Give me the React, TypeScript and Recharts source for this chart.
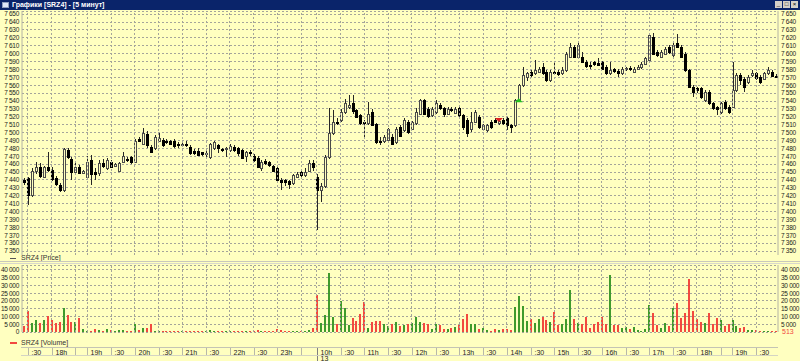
import React from "react";
import {
  Bar,
  CartesianGrid,
  ComposedChart,
  ReferenceLine,
  Scatter,
  XAxis,
  YAxis,
} from "recharts";

// trading sessions shown on the chart (5 minute candles)
const sessions = [
  { day: 12, start: "17:25", end: "18:40" },
  { day: 12, start: "19:00", end: "23:45" },
  { day: 13, start: "10:00", end: "18:40" },
  { day: 13, start: "19:00", end: "19:55" },
];

const opens = [
  7440, 7442, 7421, 7452, 7457, 7444, 7456, 7453, 7443, 7434,
  7427, 7478, 7467, 7450, 7457, 7449, 7444, 7465, 7450, 7449,
  7462, 7455, 7463, 7458, 7452, 7463, 7467, 7469, 7463, 7492,
  7486, 7498, 7482, 7480, 7490, 7491, 7490, 7489, 7490, 7486,
  7484, 7486, 7482, 7477, 7477, 7475, 7473, 7469, 7480, 7484,
  7479, 7479, 7478, 7482, 7481, 7478, 7470, 7476, 7471, 7468,
  7455, 7464, 7463, 7458, 7455, 7440, 7440, 7439, 7436, 7444,
  7450, 7446, 7452, 7461, 7444, 7427, 7433, 7469, 7499, 7514,
  7516, 7526, 7533, 7537, 7528, 7522, 7514, 7512, 7526, 7511,
  7490, 7489, 7491, 7495, 7488, 7507, 7503, 7514, 7505, 7512,
  7524, 7541, 7530, 7522, 7526, 7535, 7531, 7524, 7530, 7525,
  7531, 7522, 7516, 7505, 7514, 7520, 7505, 7503, 7514, 7516,
  7512, 7516, 7518, 7509, 7509, 7541, 7560, 7571, 7577, 7575,
  7577, 7583, 7577, 7566, 7577, 7577, 7575, 7579, 7596, 7609,
  7596, 7596, 7590, 7586, 7590, 7588, 7589, 7583, 7575, 7580,
  7578, 7575, 7580, 7582, 7577, 7581, 7583, 7587, 7592, 7621,
  7602, 7596, 7600, 7609, 7598, 7613, 7609, 7600, 7579, 7558,
  7556, 7556, 7541, 7552, 7537, 7532, 7526, 7539, 7533, 7533,
  7554, 7573, 7568, 7564, 7573, 7575, 7571, 7568, 7575, 7577,
  7572,
];

const highs = [
  7443, 7444, 7455, 7463, 7462, 7458, 7476, 7456, 7445, 7436,
  7481, 7480, 7469, 7463, 7459, 7453, 7471, 7472, 7455, 7465,
  7467, 7468, 7465, 7462, 7463, 7476, 7469, 7471, 7492, 7495,
  7506, 7502, 7484, 7497, 7499, 7493, 7492, 7491, 7492, 7488,
  7488, 7489, 7484, 7479, 7480, 7476, 7477, 7487, 7490, 7486,
  7481, 7482, 7486, 7484, 7482, 7479, 7477, 7478, 7473, 7470,
  7465, 7466, 7464, 7459, 7456, 7442, 7441, 7440, 7448, 7450,
  7452, 7455, 7465, 7465, 7448, 7436, 7472, 7531, 7529, 7518,
  7530, 7543, 7547, 7547, 7530, 7524, 7516, 7539, 7530, 7512,
  7494, 7497, 7506, 7498, 7507, 7510, 7518, 7516, 7515, 7531,
  7543, 7543, 7532, 7532, 7541, 7537, 7532, 7532, 7532, 7532,
  7533, 7524, 7518, 7526, 7528, 7522, 7511, 7511, 7516, 7518,
  7518, 7518, 7520, 7511, 7543, 7562, 7583, 7577, 7579, 7592,
  7583, 7588, 7579, 7579, 7588, 7579, 7583, 7602, 7613, 7611,
  7613, 7602, 7592, 7590, 7591, 7594, 7591, 7585, 7590, 7582,
  7580, 7583, 7583, 7584, 7583, 7585, 7589, 7596, 7625, 7626,
  7604, 7604, 7608, 7611, 7613, 7625, 7611, 7602, 7581, 7560,
  7558, 7558, 7554, 7554, 7539, 7534, 7539, 7541, 7535, 7589,
  7575, 7575, 7570, 7573, 7579, 7577, 7573, 7577, 7583, 7579,
  7574,
];

const lows = [
  7434, 7408, 7419, 7448, 7443, 7442, 7450, 7439, 7433, 7425,
  7425, 7467, 7440, 7446, 7447, 7447, 7442, 7434, 7440, 7445,
  7455, 7453, 7455, 7456, 7450, 7461, 7463, 7460, 7461, 7488,
  7484, 7480, 7474, 7478, 7488, 7482, 7486, 7484, 7481, 7480,
  7482, 7482, 7472, 7472, 7470, 7470, 7469, 7467, 7478, 7474,
  7476, 7469, 7476, 7476, 7471, 7466, 7463, 7471, 7463, 7455,
  7452, 7459, 7456, 7450, 7438, 7427, 7433, 7429, 7434, 7442,
  7444, 7444, 7450, 7451, 7377, 7412, 7430, 7467, 7497, 7510,
  7514, 7524, 7530, 7524, 7518, 7510, 7493, 7510, 7508, 7486,
  7484, 7487, 7489, 7484, 7486, 7494, 7501, 7498, 7503, 7510,
  7522, 7522, 7519, 7520, 7524, 7529, 7520, 7522, 7526, 7523,
  7520, 7503, 7495, 7501, 7512, 7505, 7503, 7501, 7505, 7512,
  7510, 7510, 7503, 7500, 7507, 7539, 7558, 7565, 7571, 7573,
  7575, 7573, 7564, 7564, 7573, 7572, 7573, 7577, 7594, 7594,
  7594, 7588, 7582, 7581, 7584, 7584, 7579, 7573, 7573, 7576,
  7570, 7573, 7578, 7578, 7575, 7579, 7581, 7585, 7590, 7598,
  7596, 7594, 7598, 7600, 7596, 7607, 7594, 7577, 7556, 7545,
  7550, 7543, 7539, 7535, 7529, 7522, 7524, 7529, 7524, 7531,
  7552, 7560, 7552, 7562, 7571, 7567, 7562, 7566, 7573, 7570,
  7570,
];

const closes = [
  7437, 7421, 7452, 7456, 7445, 7456, 7453, 7441, 7435, 7427,
  7479, 7469, 7450, 7457, 7449, 7451, 7463, 7448, 7447, 7462,
  7458, 7465, 7457, 7460, 7461, 7471, 7465, 7463, 7490, 7490,
  7499, 7484, 7476, 7494, 7493, 7484, 7488, 7486, 7483, 7484,
  7486, 7485, 7474, 7474, 7472, 7473, 7474, 7486, 7488, 7480,
  7478, 7480, 7483, 7478, 7474, 7468, 7476, 7474, 7465, 7457,
  7463, 7461, 7459, 7452, 7440, 7438, 7437, 7435, 7446, 7448,
  7446, 7450, 7461, 7456, 7427, 7433, 7469, 7499, 7514, 7512,
  7526, 7537, 7535, 7527, 7520, 7512, 7513, 7524, 7510, 7488,
  7489, 7495, 7504, 7486, 7505, 7496, 7516, 7501, 7513, 7526,
  7541, 7524, 7521, 7530, 7537, 7531, 7524, 7530, 7528, 7530,
  7522, 7507, 7499, 7514, 7526, 7507, 7509, 7509, 7507, 7514,
  7515, 7512, 7509, 7507, 7541, 7560, 7573, 7575, 7573, 7579,
  7581, 7575, 7566, 7577, 7575, 7574, 7579, 7600, 7609, 7596,
  7611, 7590, 7584, 7585, 7587, 7586, 7581, 7575, 7579, 7578,
  7576, 7581, 7582, 7580, 7581, 7583, 7587, 7594, 7623, 7600,
  7598, 7602, 7606, 7602, 7611, 7609, 7596, 7579, 7558, 7552,
  7554, 7545, 7552, 7537, 7531, 7530, 7537, 7531, 7526, 7554,
  7573, 7566, 7558, 7571, 7575, 7569, 7564, 7575, 7579, 7572,
  7571,
];

const volumes = [
  3900, 13500, 6000, 7700, 6000, 7500, 10300, 7500, 6000, 6700,
  15700, 10700, 6700, 6500, 9200, 2100, 900, 900, 2200, 1300,
  900, 1800, 1100, 900, 1000, 1500, 700, 800, 4900, 1500,
  2800, 2600, 4900, 700, 900, 700, 600, 500, 700, 600,
  800, 500, 900, 600, 500, 700, 600, 1100, 800, 500,
  600, 700, 600, 800, 900, 700, 800, 500, 900, 1000,
  800, 600, 700, 900, 2100, 1000, 700, 800, 900, 700,
  600, 900, 1200, 2800, 23600, 6000, 10700, 38300, 9600, 5400,
  20000, 15700, 4500, 9200, 7100, 11400, 19400, 2800, 6500, 7100,
  7100, 5400, 3900, 5400, 6500, 3900, 4300, 4900, 5600, 9900,
  6500, 6000, 5400, 1700, 4900, 4300, 2100, 2100, 2600, 3400,
  4300, 8200, 11800, 5400, 5400, 1700, 2400, 1100, 600, 1700,
  1300, 2100, 1700, 1500, 16300, 23200, 16800, 7100, 8200, 5600,
  8600, 9700, 7500, 6500, 12900, 4700, 5400, 8200, 26900, 8600,
  6000, 5400, 9900, 2400, 4900, 6700, 9900, 5400, 37000, 4300,
  4300, 2400, 3200, 1700, 3200, 1300, 600, 2100, 17200, 12500,
  4300, 2400, 5600, 3900, 15700, 18900, 9200, 12500, 34000, 13500,
  8200, 6500, 5600, 12000, 4900, 9200, 7500, 3900, 4900, 7700,
  3900, 2400, 3400, 1100, 1500, 1100, 600, 900, 900, 900,
  513,
];

const priceTicks = [
  7350, 7360, 7370, 7380, 7390, 7400, 7410, 7420, 7430, 7440, 7450,
  7460, 7470, 7480, 7490, 7500, 7510, 7520, 7530, 7540, 7550, 7560,
  7570, 7580, 7590, 7600, 7610, 7620, 7630, 7640, 7650,
];
const volumeTicks = [0, 5000, 10000, 15000, 20000, 25000, 30000, 35000, 40000];

// deal markers
const sellMarks = [{ day: 13, time: "13:50", price: 7516 }];
const buyMarks = [{ day: 13, time: "14:15", price: 7541 }];

const BG = "#ffffc0";
const GRID = "#a4a49a";
const AXIS = "#b4b4a4";
const TEXT = "#1c1c1c";
const GREEN = "#3f9a2c";
const RED = "#f2493f";
const FONT = '"Liberation Sans", Arial, sans-serif';

const toMin = (t: string) => {
  const [h, m] = t.split(":").map(Number);
  return h * 60 + m;
};
const pad = (n: number) => String(n).padStart(2, "0");

const slots: { day: number; time: string; hour: number; minute: number }[] = [];
sessions.forEach((s) => {
  for (let t = toMin(s.start); t <= toMin(s.end); t += 5) {
    const hour = Math.floor(t / 60);
    const minute = t % 60;
    slots.push({ day: s.day, time: `${pad(hour)}:${pad(minute)}`, hour, minute });
  }
});

const rows = slots.map((s, i) => {
  const sell = sellMarks.find((m) => m.day === s.day && m.time === s.time);
  const buy = buyMarks.find((m) => m.day === s.day && m.time === s.time);
  return {
    key: `${s.day} ${s.time}`,
    day: s.day,
    hour: s.hour,
    minute: s.minute,
    index: i,
    o: opens[i],
    h: highs[i],
    l: lows[i],
    c: closes[i],
    range: [lows[i], highs[i]],
    volume: volumes[i],
    up: closes[i] >= opens[i],
    sell: sell ? sell.price : null,
    buy: buy ? buy.price : null,
  };
});

const halfHours = rows.filter((r) => r.minute % 30 === 0);
const tickKeys = halfHours.map((r) => r.key);
const tickInfo: Record<string, { label: string; show: boolean; dayStart: boolean; day: number }> = {};
halfHours.forEach((r, j) => {
  const next = halfHours[j + 1];
  tickInfo[r.key] = {
    label: r.minute === 0 ? `${r.hour}h` : ":30",
    show: !next || next.index - r.index >= 5,
    dayStart: j > 0 && halfHours[j - 1].day !== r.day,
    day: r.day,
  };
});

// thousands separated by a non-breaking space so the axis text never wraps
const spaced = (v: number) => String(v).replace(/\B(?=(\d{3})+(?!\d))/g, "\u00a0");

function Candle(props: any) {
  const { x, y, width, height, payload } = props;
  if (x == null || y == null) return <g />;
  const top = Math.min(y, y + height);
  const bottom = Math.max(y, y + height);
  const span = payload.h - payload.l || 1;
  const at = (v: number) => top + ((payload.h - v) / span) * (bottom - top);
  const cx = Math.round(x + width / 2);
  const bt = Math.round(at(Math.max(payload.o, payload.c)));
  const bb = Math.round(at(Math.min(payload.o, payload.c)));
  const bh = Math.max(bb - bt, 1);
  return (
    <g shapeRendering="crispEdges">
      <line x1={cx + 0.5} x2={cx + 0.5} y1={Math.round(top)} y2={Math.round(bottom)} stroke="#262626" />
      {payload.up ? (
        <rect x={cx - 0.5} y={bt + 0.5} width={2} height={bh} fill={BG} stroke="#4a4a4a" />
      ) : (
        <rect x={cx - 1} y={bt} width={3} height={bh + 1} fill="#000" />
      )}
    </g>
  );
}

function VolumeBar(props: any) {
  const { x, y, width, height, payload } = props;
  if (!height || height <= 0) return <g />;
  const cx = Math.round(x + width / 2);
  return (
    <rect
      x={cx - 1}
      y={Math.round(y)}
      width={2}
      height={Math.max(Math.round(height), 1)}
      fill={payload.up ? GREEN : RED}
      shapeRendering="crispEdges"
    />
  );
}

function SellMark(props: any) {
  const { cx, cy, payload } = props;
  if (payload.sell == null || !isFinite(cy)) return <g />;
  return <polygon points={`${cx - 4},${cy - 2} ${cx + 4},${cy - 2} ${cx},${cy + 2}`} fill="#e02020" />;
}

function BuyMark(props: any) {
  const { cx, cy, payload } = props;
  if (payload.buy == null || !isFinite(cy)) return <g />;
  return <polygon points={`${cx - 4},${cy + 2} ${cx + 4},${cy + 2} ${cx},${cy - 2}`} fill="#22c022" />;
}

function TimeTick(props: any) {
  const { x, y, payload } = props;
  const info = tickInfo[payload.value];
  if (!info) return <g />;
  const px = Math.round(x) + 0.5;
  return (
    <g>
      <line x1={px} x2={px} y1={y + 16} y2={info.dayStart ? y + 29 : y + 23} stroke={info.dayStart ? "#808080" : "#b8b8a8"} />
      {info.show && (
        <text x={px + 3} y={y + 22.5} fontSize={7} fill={TEXT} fontFamily={FONT}>
          {info.label}
        </text>
      )}
      {info.dayStart && (
        <text x={px + 3} y={y + 28.5} fontSize={7} fill={TEXT} fontFamily={FONT}>
          {info.day}
        </text>
      )}
    </g>
  );
}

const axisTick = { fontSize: 6.5, fill: TEXT, fontFamily: FONT, letterSpacing: -0.3 };

function App() {
  const last = rows[rows.length - 1];
  return (
    <div
      style={{
        position: "absolute",
        left: 0,
        top: 0,
        width: 800,
        height: 361,
        background: BG,
        overflow: "hidden",
        fontFamily: FONT,
      }}
    >
      {/* price panel */}
      <div style={{ position: "absolute", left: 0, top: 0 }}>
        <ComposedChart
          width={800}
          height={255}
          data={rows}
          margin={{ top: 11, right: 0, bottom: 0, left: 0 }}
          barCategoryGap={0}
        >
          <CartesianGrid vertical={false} stroke={GRID} strokeDasharray="2 2" shapeRendering="crispEdges" />
          <XAxis dataKey="key" hide />
          <YAxis
            domain={[7345, 7654]}
            allowDataOverflow
            ticks={priceTicks}
            interval={0}
            width={22}
            tickSize={0}
            tickMargin={3}
            tickLine={false}
            axisLine={{ stroke: AXIS }}
            tickFormatter={spaced}
            tick={axisTick}
          />
          <YAxis
            yAxisId="r"
            orientation="right"
            domain={[7345, 7654]}
            allowDataOverflow
            ticks={priceTicks}
            interval={0}
            width={22}
            tickSize={0}
            tickMargin={3}
            tickLine={false}
            axisLine={{ stroke: AXIS }}
            tickFormatter={spaced}
            tick={axisTick}
          />
          {tickKeys.map((k) => (
            <ReferenceLine
              key={k}
              x={k}
              stroke={GRID}
              strokeDasharray="2 2"
              shapeRendering="crispEdges"
            />
          ))}
          <Bar dataKey="range" shape={Candle} isAnimationActive={false} />
          <Scatter dataKey="sell" shape={SellMark} isAnimationActive={false} />
          <Scatter dataKey="buy" shape={BuyMark} isAnimationActive={false} />
        </ComposedChart>
      </div>

      {/* price legend */}
      <div style={{ position: "absolute", left: 10, top: 254, fontSize: 7, color: "#333", lineHeight: "8px", whiteSpace: "nowrap" }}>
        <span style={{ display: "inline-block", width: 6, height: 1, background: "#555", verticalAlign: "middle", marginRight: 5 }} />
        SRZ4 [Price]
      </div>

      {/* panel separator */}
      <div style={{ position: "absolute", left: 0, top: 261, width: 800, height: 1, background: "#c8c8bc" }} />
      <div style={{ position: "absolute", left: 0, top: 263, width: 800, height: 1, background: "#d8d8cc" }} />

      {/* volume panel + time axis */}
      <div style={{ position: "absolute", left: 0, top: 262 }}>
        <ComposedChart
          width={800}
          height={99}
          data={rows}
          margin={{ top: 3, right: 0, bottom: 0, left: 0 }}
          barCategoryGap={0}
        >
          <CartesianGrid vertical={false} stroke={GRID} strokeDasharray="2 2" shapeRendering="crispEdges" />
          <XAxis
            dataKey="key"
            ticks={tickKeys}
            interval={0}
            height={29}
            tickSize={0}
            tickMargin={0}
            axisLine={false}
            tickLine={false}
            tick={TimeTick}
          />
          <YAxis
            domain={[0, 43200]}
            allowDataOverflow
            ticks={volumeTicks}
            interval={0}
            width={22}
            tickSize={0}
            tickMargin={3}
            tickLine={false}
            axisLine={{ stroke: AXIS }}
            tickFormatter={spaced}
            tick={axisTick}
          />
          <YAxis
            yAxisId="r"
            orientation="right"
            domain={[0, 43200]}
            allowDataOverflow
            ticks={volumeTicks.filter((v) => v > 0)}
            interval={0}
            width={22}
            tickSize={0}
            tickMargin={3}
            tickLine={false}
            axisLine={{ stroke: AXIS }}
            tickFormatter={spaced}
            tick={axisTick}
          />
          {tickKeys.map((k) => (
            <ReferenceLine
              key={k}
              x={k}
              stroke={GRID}
              strokeDasharray="2 2"
              shapeRendering="crispEdges"
            />
          ))}
          <Bar dataKey="volume" shape={VolumeBar} isAnimationActive={false} />
          <ReferenceLine
            yAxisId="r"
            y={last.volume}
            stroke="none"
            label={{ value: String(last.volume), position: "right", fill: RED, fontSize: 7, fontFamily: FONT, offset: 4 }}
          />
        </ComposedChart>
      </div>

      {/* volume legend */}
      <div style={{ position: "absolute", left: 10, top: 339, fontSize: 7, color: "#333", lineHeight: "8px", whiteSpace: "nowrap" }}>
        <span style={{ display: "inline-block", width: 7, height: 2, background: RED, verticalAlign: "middle", marginRight: 4 }} />
        SRZ4 [Volume]
      </div>

      {/* time axis frame */}
      <div style={{ position: "absolute", left: 21, top: 347, width: 757, height: 1, background: "#c4c4b4" }} />
      <div style={{ position: "absolute", left: 21, top: 355, width: 757, height: 1, background: "#d4d4c4" }} />

      {/* window title bar */}
      <div
        style={{
          position: "absolute",
          left: 0,
          top: 0,
          width: 800,
          height: 10,
          background: "#0a246a",
          color: "#fff",
          fontSize: 7,
          fontWeight: "bold",
          lineHeight: "10px",
          whiteSpace: "nowrap",
        }}
      >
        <span style={{ position: "absolute", left: 2, top: 2, width: 7, height: 6, background: "#dfe8f8", border: "1px solid #90a0c0", boxSizing: "border-box" }} />
        <span style={{ position: "absolute", left: 12, top: 0 }}>Графики [SRZ4] - [5 минут]</span>
        {["_", "□", "×"].map((g, i) => (
          <span
            key={g}
            style={{
              position: "absolute",
              left: 775 + i * 8,
              top: 1,
              width: 7,
              height: 7,
              background: "#d4d0c8",
              color: "#000",
              fontSize: 6,
              lineHeight: "7px",
              textAlign: "center",
              fontWeight: "normal",
            }}
          >
            {g}
          </span>
        ))}
      </div>
    </div>
  );
}

export default App;
